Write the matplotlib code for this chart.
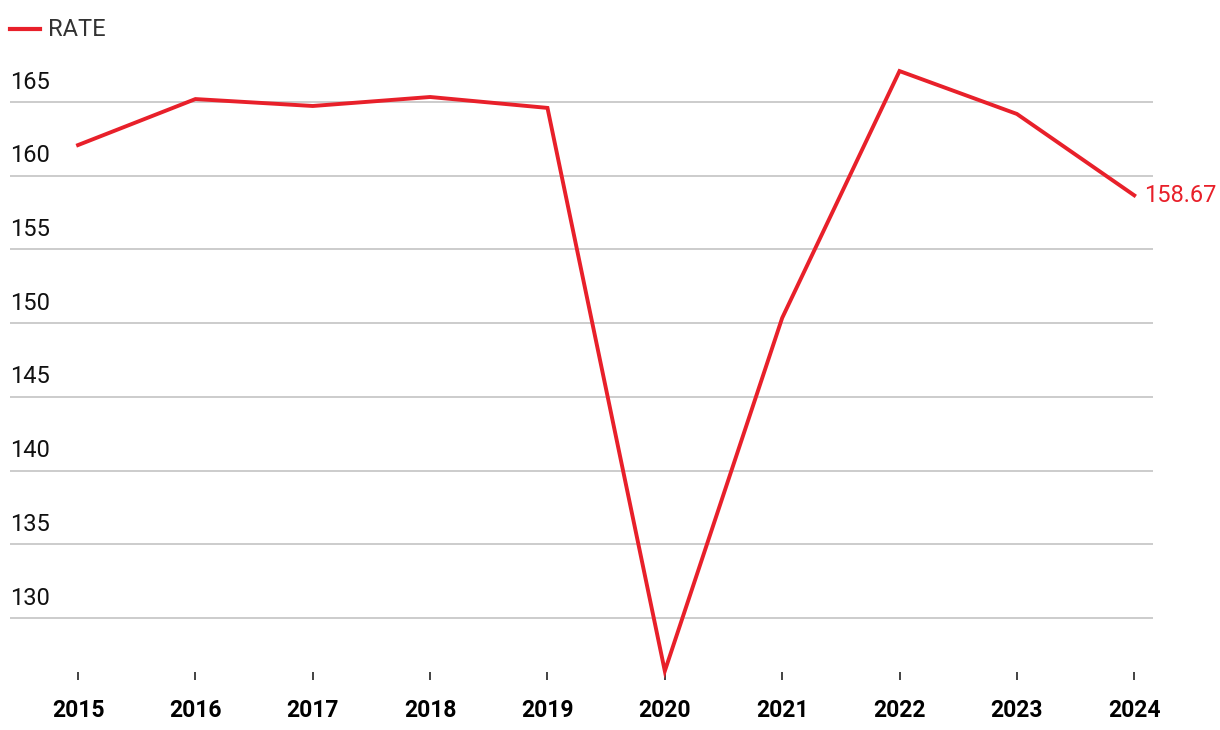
import matplotlib.pyplot as plt

# datos
years = [2015, 2016, 2017, 2018, 2019, 2020, 2021, 2022, 2023, 2024]
rate = [162.08, 165.2, 164.73, 165.34, 164.6, 126.4, 150.35, 167.1, 164.19, 158.67]
y_ticks = [130, 135, 140, 145, 150, 155, 160, 165]
last_label = '158.67'

red = '#e8202a'
plt.rcParams['font.family'] = ['Roboto', 'DejaVu Sans']

fig = plt.figure(figsize=(12.2, 7.3), dpi=100)
ax = fig.add_axes([10 / 1220, 1 - 680 / 730, 1143 / 1220, 620 / 730])

# lineas de grilla y etiquetas del eje y
for v in y_ticks:
    ax.axhline(v, color='#cccccc', lw=1.4, zorder=1)
    ax.annotate(str(v), xy=(0, v), xycoords=('axes fraction', 'data'),
                xytext=(0, 6), textcoords='offset points',
                ha='left', va='bottom', fontsize=17, color='#111111')

ax.plot(years, rate, color=red, lw=2.8, zorder=3, clip_on=False,
        solid_joinstyle='miter')
ax.annotate(last_label, xy=(years[-1], rate[-1]), xytext=(7, 0),
            textcoords='offset points', ha='left', va='center',
            fontsize=17, color=red)

ax.set_xlim(2014.42, 2024.16)
ax.set_ylim(125.79, 167.85)
ax.set_yticks([])
ax.set_xticks(years)
ax.set_xticklabels([str(y) for y in years], fontsize=16.5, fontweight='bold')
ax.tick_params(axis='x', direction='in', length=6, width=1.2,
               color='#222222', pad=14)
for s in ax.spines.values():
    s.set_visible(False)

# leyenda manual
fig.lines.append(plt.Line2D([10 / 1220, 40 / 1220], [1 - 29 / 730] * 2,
                            color=red, lw=3, transform=fig.transFigure))
fig.text(48 / 1220, 1 - 29 / 730, 'RATE', ha='left', va='center',
         fontsize=17, color='#333333')

fig.savefig('out.png', dpi=100)
